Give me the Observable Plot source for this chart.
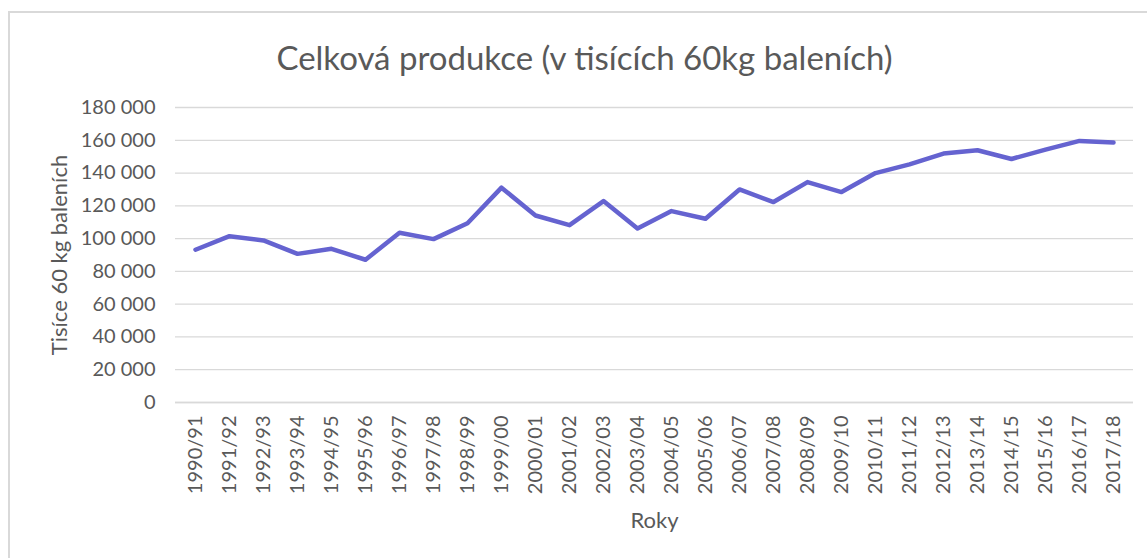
<!DOCTYPE html>
<html>
<head>
<meta charset="utf-8">
<script src="https://cdn.jsdelivr.net/npm/d3@7"></script>
<script src="https://cdn.jsdelivr.net/npm/@observablehq/plot@0.6"></script>
<style>
  html, body { margin: 0; padding: 0; background: #fff; overflow: hidden; }
  #wrap { position: relative; width: 1147px; height: 558px; }
  #frame { position: absolute; left: 8px; top: 11px; width: 1160px; height: 560px; border: 2px solid #d9d9d9; box-sizing: border-box; pointer-events: none; }
  #title { height: 85px; box-sizing: border-box; padding-top: 37px; text-align: center; padding-left: 22px;
           font-family: Lato, "Open Sans", sans-serif; font-size: 33px; color: #595959; line-height: 40px; white-space: nowrap; }
  #chart svg { display: block; overflow: visible; }
</style>
</head>
<body>
<div id="wrap">
  <div id="title">Celková produkce (v tisících 60kg baleních)</div>
  <div id="chart"></div>
  <div id="frame"></div>
</div>
<script>
const seasons = ["1990/91","1991/92","1992/93","1993/94","1994/95","1995/96","1996/97","1997/98","1998/99","1999/00",
  "2000/01","2001/02","2002/03","2003/04","2004/05","2005/06","2006/07","2007/08","2008/09","2009/10",
  "2010/11","2011/12","2012/13","2013/14","2014/15","2015/16","2016/17","2017/18"];
const production = [93200,101500,98900,90700,93800,87100,103600,99700,109400,131100,
  114100,108200,122900,106200,116800,112100,130000,122300,134500,128400,
  140000,145300,151900,153900,148600,154300,159600,158600];
const yTicks = [0,20000,40000,60000,80000,100000,120000,140000,160000,180000];
const yLabel = "Tisíce 60 kg baleních";
const xLabel = "Roky";

const data = seasons.map((s, i) => ({season: s, value: production[i]}));
const fmt = d => d3.format(",")(d).replace(/,/g, " ");

const chart = Plot.plot({
  width: 1147,
  height: 473,
  marginTop: 22,
  marginBottom: 156,
  marginLeft: 175,
  marginRight: 14,
  style: {fontFamily: "Lato, 'Open Sans', sans-serif", fontSize: "20px", color: "#595959", background: "#fff"},
  x: {type: "point", domain: seasons, padding: 0.5},
  y: {domain: [0, 180000]},
  marks: [
    Plot.gridY(yTicks, {stroke: "#d9d9d9", strokeOpacity: 1, strokeWidth: 1.3}),
    Plot.axisY(yTicks, {tickSize: 0, tickPadding: 20, tickFormat: fmt, label: null, fill: "#595959", fontSize: 20}),
    Plot.axisX({tickSize: 0, tickPadding: 13, tickRotate: -90, label: null, fill: "#595959", fontSize: 20}),
    Plot.ruleY([0], {stroke: "#d9d9d9", strokeWidth: 1.3}),
    Plot.line(data, {x: "season", y: "value", stroke: "#6563d0", strokeWidth: 4.5, strokeLinejoin: "round", strokeLinecap: "round"}),
    Plot.text([yLabel], {frameAnchor: "left", rotate: -90, dx: -116, textAnchor: "middle", lineAnchor: "middle", fontSize: 22, fill: "#595959"}),
    Plot.text([xLabel], {frameAnchor: "bottom", dy: 118, lineAnchor: "middle", fontSize: 22, fill: "#595959"})
  ]
});
document.getElementById("chart").appendChild(chart);
</script>
</body>
</html>
